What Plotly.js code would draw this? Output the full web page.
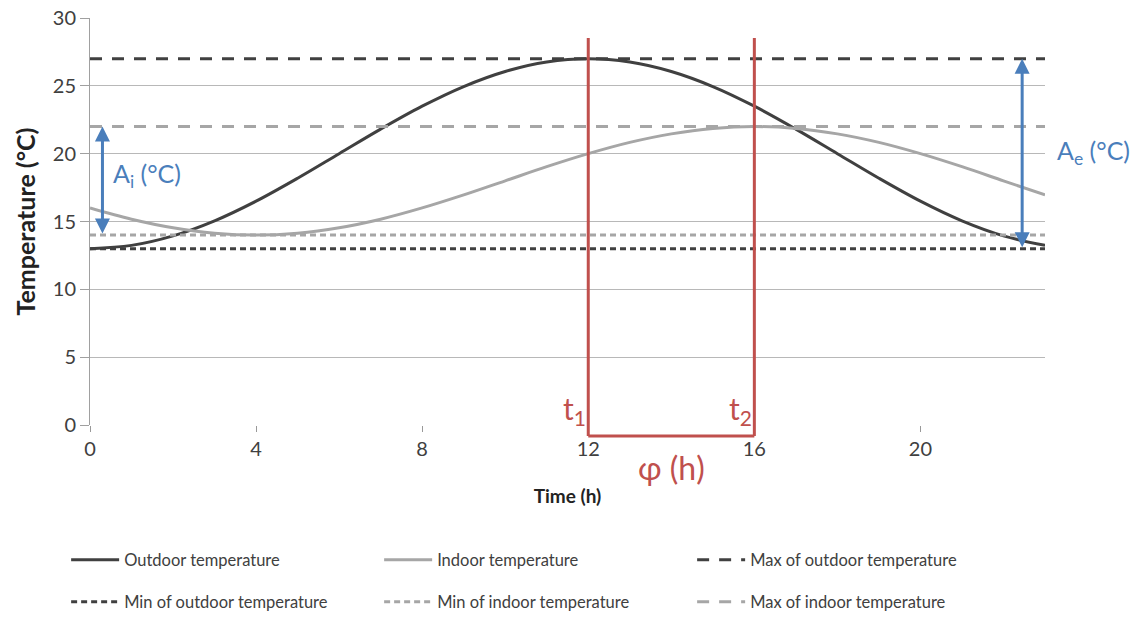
<!DOCTYPE html>
<html>
<head>
<meta charset="utf-8">
<script src="https://cdn.plot.ly/plotly-3.0.1.min.js"></script>
<style>html,body{margin:0;padding:0;background:#fff;}#chart{width:1141px;height:621px;}</style>
</head>
<body>
<div id="chart"></div>
<script>
const hours = [0,1,2,3,4,5,6,7,8,9,10,11,12,13,14,15,16,17,18,19,20,21,22,23];
const outdoorTemp = [13,13.24,13.94,15.05,16.5,18.19,20,21.81,23.5,24.95,26.06,26.76,27,26.76,26.06,24.95,23.5,21.81,20,18.19,16.5,15.05,13.94,13.24];
const indoorTemp = [16,15.17,14.54,14.14,14,14.14,14.54,15.17,16,16.96,18,19.04,20,20.83,21.46,21.86,22,21.86,21.46,20.83,20,19.04,18,16.96];
const maxOutdoor = 27, minOutdoor = 13, maxIndoor = 22, minIndoor = 14;
const lagStart = 12, lagEnd = 16;
const seriesNames = ["Outdoor temperature","Indoor temperature","Max of outdoor temperature","Min of outdoor temperature","Min of indoor temperature","Max of indoor temperature"];
const yTicks = [0,5,10,15,20,25,30];
const xTicks = [0,4,8,12,16,20];

const dark = '#404040', light = '#a6a6a6', red = '#c0504d', blue = '#4a7ebb';
const flat = v => hours.map(() => v);

const traces = [
  {x: hours, y: outdoorTemp, name: seriesNames[0], legend: 'legend', mode: 'lines', line: {color: dark, width: 3, shape: 'spline'}},
  {x: hours, y: indoorTemp, name: seriesNames[1], legend: 'legend', mode: 'lines', line: {color: light, width: 3, shape: 'spline'}},
  {x: hours, y: flat(maxOutdoor), name: seriesNames[2], legend: 'legend', mode: 'lines', line: {color: dark, width: 3, dash: '12px,10px'}},
  {x: hours, y: flat(minOutdoor), name: seriesNames[3], legend: 'legend2', mode: 'lines', line: {color: dark, width: 3, dash: '6px,4px'}},
  {x: hours, y: flat(minIndoor), name: seriesNames[4], legend: 'legend2', mode: 'lines', line: {color: light, width: 3, dash: '6px,4px'}},
  {x: hours, y: flat(maxIndoor), name: seriesNames[5], legend: 'legend2', mode: 'lines', line: {color: light, width: 3, dash: '12px,10px'}}
];

const font = 'Lato, "Open Sans", sans-serif';
const legendBase = {
  orientation: 'h', x: -0.025, xanchor: 'left', yanchor: 'middle',
  entrywidth: 250, entrywidthmode: 'pixels', tracegroupgap: 0, itemwidth: 48,
  font: {size: 16.5, color: dark, family: font}, bgcolor: 'rgba(0,0,0,0)'
};
const layout = {
  width: 1141, height: 621,
  margin: {l: 90, r: 96, t: 18, b: 196, autoexpand: false},
  paper_bgcolor: '#fff', plot_bgcolor: '#fff',
  font: {family: font, color: dark, size: 20},
  showlegend: true,
  xaxis: {
    range: [0, 23], tickvals: xTicks, ticktext: xTicks.map(String),
    showgrid: false, zeroline: false, showline: false,
    ticks: 'outside', ticklen: 6, tickcolor: '#999', tickfont: {size: 20, color: dark},
    title: {text: '<b>Time (h)</b>', font: {size: 19, color: '#222'}, standoff: 30}
  },
  yaxis: {
    range: [0, 30], tickvals: yTicks, showgrid: true, gridcolor: '#b8b8b8', gridwidth: 1,
    zeroline: false, showline: true, linecolor: '#a0a0a0', linewidth: 1,
    ticks: 'outside', ticklen: 9, tickcolor: '#a0a0a0', tickfont: {size: 20, color: dark},
    title: {text: '<b>Temperature (°C)</b>', font: {size: 25, color: '#222'}, standoff: 10}
  },
  legend: Object.assign({}, legendBase, {y: -0.332}),
  legend2: Object.assign({}, legendBase, {y: -0.435}),
  shapes: [
    {type: 'line', xref: 'x', yref: 'paper', x0: lagStart, x1: lagStart, y0: -0.027, y1: 0.951, line: {color: red, width: 3}},
    {type: 'line', xref: 'x', yref: 'paper', x0: lagEnd, x1: lagEnd, y0: -0.027, y1: 0.951, line: {color: red, width: 3}},
    {type: 'line', xref: 'x', yref: 'paper', x0: lagStart, x1: lagEnd, y0: -0.027, y1: -0.027, line: {color: red, width: 3}}
  ],
  annotations: [
    {x: 0.3, y: maxIndoor, ax: 0.3, ay: minIndoor, xref: 'x', yref: 'y', axref: 'x', ayref: 'y', text: '', showarrow: true, arrowside: 'end+start', arrowhead: 2, arrowsize: 1, arrowwidth: 3, arrowcolor: blue},
    {x: 22.45, y: maxOutdoor, ax: 22.45, ay: minOutdoor, xref: 'x', yref: 'y', axref: 'x', ayref: 'y', text: '', showarrow: true, arrowside: 'end+start', arrowhead: 2, arrowsize: 1, arrowwidth: 3, arrowcolor: blue},
    {x: 0.5, y: 18.4, xref: 'x', yref: 'y', xanchor: 'left', text: 'A<sub>i</sub> (°C)', showarrow: false, font: {size: 25, color: blue, family: font}},
    {x: 1.01, y: 20.1, xref: 'paper', yref: 'y', xanchor: 'left', text: 'A<sub>e</sub> (°C)', showarrow: false, font: {size: 25, color: blue, family: font}},
    {x: lagStart, y: 1.1, xref: 'x', yref: 'y', xanchor: 'right', text: 't<sub>1</sub>', showarrow: false, font: {size: 30, color: red, family: font}},
    {x: lagEnd, y: 1.1, xref: 'x', yref: 'y', xanchor: 'right', text: 't<sub>2</sub>', showarrow: false, font: {size: 30, color: red, family: font}},
    {x: (lagStart + lagEnd) / 2, y: -0.105, xref: 'x', yref: 'paper', yanchor: 'middle', text: 'φ (h)', showarrow: false, font: {size: 32, color: red, family: font}}
  ]
};

Plotly.newPlot('chart', traces, layout, {displayModeBar: false, staticPlot: true});
</script>
</body>
</html>
